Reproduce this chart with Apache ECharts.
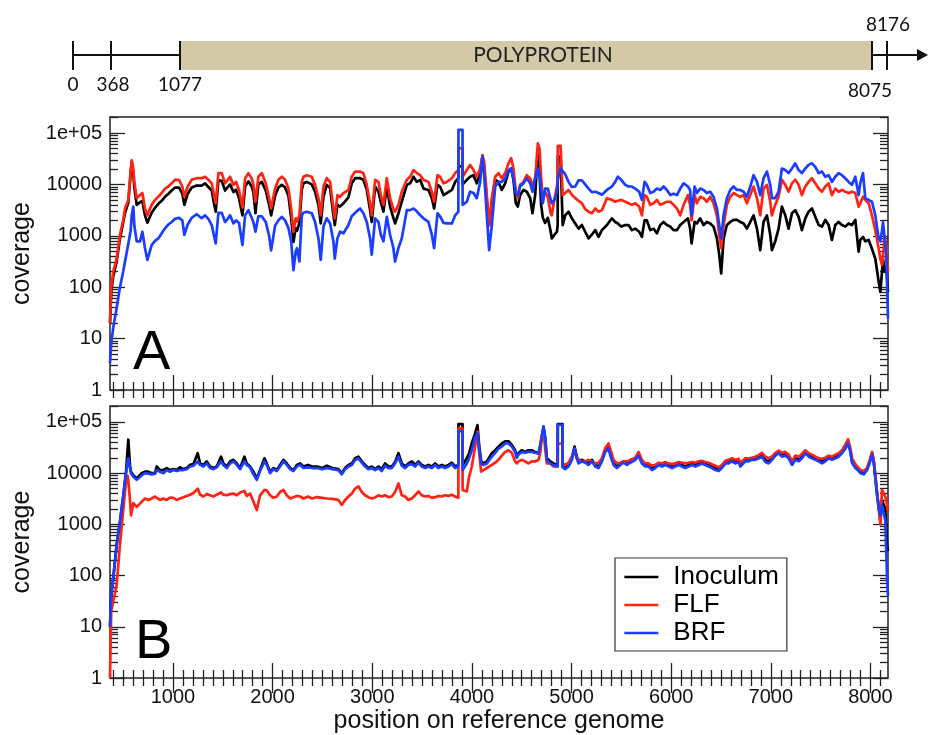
<!DOCTYPE html>
<html>
<head>
<meta charset="utf-8">
<title>Genome coverage</title>
<script src="https://cdn.jsdelivr.net/npm/echarts@6/dist/echarts.min.js"></script>
<style>
  html, body { margin: 0; padding: 0; background: #ffffff; }
  #chart { width: 928px; height: 735px; }
</style>
</head>
<body>
<div id="chart"></div>
<script>
// ---------------------------------------------------------------------------
// Read depth along the reference genome, panel A
// ---------------------------------------------------------------------------
const posA = [
  368, 380, 400, 435, 468, 500, 519, 552, 575, 586,
  602, 612, 636, 669, 693, 719, 743, 786, 820, 853,
  887, 920, 954, 987, 1021, 1061, 1094, 1114, 1148, 1188,
  1238, 1288, 1322, 1355, 1389, 1412, 1429, 1456, 1489, 1523,
  1550, 1573, 1607, 1633, 1663, 1697, 1724, 1757, 1790, 1807,
  1828, 1857, 1891, 1931, 1965, 1985, 2025, 2058, 2092, 2125,
  2159, 2186, 2209, 2232, 2245, 2269, 2293, 2309, 2343, 2393,
  2426, 2460, 2483, 2510, 2543, 2577, 2610, 2624, 2650, 2677,
  2711, 2761, 2794, 2828, 2878, 2911, 2945, 2978, 2995, 3029,
  3062, 3086, 3112, 3146, 3179, 3212, 3229, 3263, 3296, 3347,
  3380, 3414, 3447, 3481, 3514, 3564, 3598, 3621, 3655, 3681,
  3715, 3748, 3799, 3832, 3864, 3865, 3906, 3907, 3949, 3982,
  4016, 4049, 4083, 4106, 4123, 4150, 4173, 4200, 4234, 4267,
  4300, 4334, 4367, 4394, 4417, 4441, 4461, 4484, 4518, 4551,
  4585, 4608, 4635, 4662, 4679, 4695, 4712, 4735, 4762, 4789,
  4802, 4829, 4853, 4861, 4862, 4890, 4910, 4911, 4936, 4970,
  5003, 5037, 5070, 5104, 5137, 5171, 5204, 5238, 5271, 5305,
  5355, 5405, 5438, 5465, 5499, 5539, 5572, 5606, 5639, 5679,
  5706, 5733, 5756, 5790, 5823, 5857, 5890, 5924, 5957, 5991,
  6024, 6058, 6091, 6125, 6168, 6190, 6205, 6235, 6258, 6291,
  6325, 6358, 6392, 6425, 6459, 6482, 6502, 6526, 6559, 6593,
  6626, 6660, 6693, 6727, 6760, 6794, 6827, 6861, 6894, 6927,
  6961, 6994, 7011, 7044, 7078, 7111, 7145, 7178, 7212, 7245,
  7279, 7312, 7346, 7379, 7413, 7446, 7480, 7513, 7547, 7580,
  7613, 7647, 7680, 7714, 7747, 7781, 7814, 7848, 7881, 7898,
  7925, 7948, 7982, 8015, 8049, 8082, 8099, 8116, 8126, 8142,
  8159, 8176
];
const inoculumA = [
  20, 80, 160, 320, 890, 1800, 2800, 4500, 16000, 27000,
  16000, 8900, 4000, 4500, 4800, 2500, 1800, 2800, 3500, 4200,
  4800, 5750, 6600, 7600, 8700, 8700, 6600, 4000, 6600, 8700,
  9500, 9500, 10500, 8900, 7600, 4200, 2950, 12000, 11700, 7600,
  8900, 10000, 7100, 7900, 5400, 2500, 9100, 11500, 9100, 7100,
  2750, 10000, 11200, 7600, 4000, 2500, 6000, 8700, 9800, 8700,
  6000, 2240, 760, 1410, 1260, 1780, 7900, 10500, 11200, 10000,
  7200, 4000, 1740, 5750, 9800, 8500, 2500, 1620, 4000, 3700,
  4300, 5600, 10500, 13200, 13200, 12300, 7900, 3160, 1860, 9100,
  7200, 4500, 2950, 9100, 3700, 2240, 1740, 2750, 4600, 9800,
  10500, 14100, 11200, 12300, 8300, 7800, 5400, 3400, 9800, 9100,
  6200, 6800, 7800, 11200, 13200, 22400, 22400, 10000, 12300, 14100,
  15100, 10500, 16600, 34700, 20000, 4600, 1620, 4600, 12300, 11200,
  7800, 10500, 17800, 20400, 12300, 4300, 3700, 6200, 7800, 7200,
  5400, 2750, 6200, 43700, 15800, 4000, 2240, 1780, 2240, 1260,
  890, 1050, 1200, 1620, 34700, 34700, 34700, 1620, 2500, 2950,
  2190, 1740, 1380, 1620, 1200, 890, 1050, 1290, 950, 1290,
  1620, 2190, 1860, 1740, 1510, 1620, 1620, 1290, 1380, 1200,
  950, 2000, 2000, 1290, 1380, 1120, 1620, 1860, 1620, 1510,
  1290, 1290, 1620, 1860, 2190, 1380, 710, 1860, 1740, 2190,
  1620, 1860, 1740, 1510, 890, 430, 186, 890, 1620, 1860,
  2040, 2040, 1860, 1740, 1380, 1860, 2500, 1380, 525, 1860,
  2500, 1050, 525, 780, 1380, 3700, 2500, 1380, 2750, 3160,
  2340, 1290, 2190, 2950, 3400, 2340, 1620, 1510, 2040, 1620,
  830, 1620, 1860, 1620, 1510, 1740, 1620, 2040, 490, 830,
  950, 780, 830, 560, 355, 130, 81, 200, 360, 200,
  250, 80
];
const flfA = [
  20, 100, 200, 360, 1050, 2000, 3400, 5000, 18000, 29500,
  20000, 11200, 5400, 6200, 6800, 3400, 2500, 4000, 5000, 5750,
  6800, 8300, 9100, 10500, 12300, 12300, 9100, 5750, 9100, 12300,
  13200, 13200, 14100, 12300, 10500, 6200, 4300, 16600, 16600, 10500,
  12300, 14100, 9800, 11200, 7800, 3550, 13200, 16600, 13200, 10000,
  4600, 14100, 16600, 10500, 5400, 3400, 8300, 12300, 14100, 12300,
  8300, 3400, 1200, 2190, 1900, 2500, 11200, 14100, 15100, 14100,
  9800, 5400, 2500, 9100, 13200, 11200, 3400, 2190, 6200, 5750,
  6800, 7800, 14100, 17800, 17800, 16600, 9800, 4200, 2500, 12300,
  11200, 6200, 4000, 13200, 5400, 3300, 2950, 4000, 7200, 12300,
  14100, 19000, 16600, 15100, 12300, 11200, 7200, 4600, 15100, 14100,
  10500, 11200, 13200, 16600, 19000, 50100, 50100, 14100, 19000, 24000,
  19000, 14100, 20400, 37200, 27500, 6200, 1620, 5400, 14100, 16600,
  13200, 16600, 25700, 32400, 20400, 7200, 5400, 9800, 11200, 15100,
  13200, 9100, 13200, 63100, 50100, 13200, 5400, 7200, 5600, 2800,
  2500, 5400, 8900, 11200, 56200, 56200, 56200, 6200, 6800, 7800,
  6300, 5400, 4800, 4300, 3300, 2950, 2750, 3400, 2950, 3160,
  5400, 5000, 4600, 4800, 5000, 4600, 4300, 4000, 4300, 3700,
  2500, 6200, 5750, 4000, 4300, 5000, 4000, 4300, 4600, 4600,
  4000, 3400, 2500, 4000, 6200, 4000, 2000, 6200, 4300, 5750,
  5400, 4600, 5750, 4300, 2500, 1050, 575, 1620, 4000, 5750,
  6800, 6200, 5750, 6200, 4300, 6200, 9100, 5400, 2500, 8300,
  9800, 4600, 2500, 4000, 5750, 12300, 9800, 7200, 10500, 12300,
  9800, 6200, 9100, 11200, 13200, 10500, 8300, 7200, 9100, 10500,
  6200, 8300, 7200, 7800, 7200, 6800, 7200, 6800, 3700, 4300,
  5750, 5000, 4300, 2500, 1260, 575, 355, 270, 400, 1000,
  630, 200
];
const brfA = [
  3.3, 8, 16, 40, 100, 200, 320, 700, 1260, 2500,
  3700, 1600, 780, 780, 1200, 580, 340, 660, 800, 890,
  1120, 1400, 1660, 1860, 2140, 2240, 2000, 1050, 1660, 2240,
  2630, 2190, 2500, 2140, 1620, 1000, 710, 2800, 2800, 1860,
  2140, 2500, 1740, 2000, 1780, 660, 2500, 3160, 2240, 1860,
  1200, 2400, 2400, 1860, 1000, 520, 1580, 2000, 2340, 2000,
  1410, 790, 214, 500, 575, 316, 2500, 2800, 2950, 2750,
  1860, 890, 340, 1510, 2190, 1740, 780, 360, 890, 1200,
  1120, 1620, 2400, 2800, 3400, 2750, 1860, 890, 430, 2190,
  1860, 1050, 780, 2340, 1050, 580, 316, 580, 890, 3160,
  3160, 3400, 3000, 2500, 2190, 1860, 1050, 575, 2750, 2400,
  1780, 1740, 1740, 2500, 2950, 115000, 115000, 4000, 4600, 7200,
  6800, 5400, 11200, 34700, 15800, 2500, 525, 1620, 9100, 11200,
  11200, 13200, 19000, 20400, 13200, 6800, 6200, 9100, 10500, 13200,
  10500, 7200, 13200, 20400, 15800, 7900, 4300, 8300, 8300, 5200,
  4300, 5000, 7200, 11200, 12600, 20400, 20400, 20400, 15800, 11200,
  8900, 9100, 12000, 12000, 10000, 8300, 7100, 7200, 6800, 6300,
  7800, 9100, 11200, 14100, 12300, 9800, 9100, 9100, 8300, 7200,
  5000, 11200, 9800, 6800, 7200, 8300, 7800, 9100, 7800, 6200,
  6600, 6200, 8300, 10500, 9100, 7800, 2500, 9100, 6800, 8300,
  7800, 6800, 7200, 5750, 3400, 1620, 890, 2500, 5400, 7800,
  9100, 7800, 7800, 7200, 5750, 9100, 15100, 11200, 6200, 13200,
  17800, 9800, 5400, 5400, 7200, 20400, 19000, 16600, 20400, 25700,
  19000, 16600, 20400, 24000, 25700, 21900, 16600, 17800, 14100, 15100,
  11200, 14100, 16600, 15100, 13200, 11200, 9800, 14100, 6200, 10500,
  16600, 5400, 5000, 4600, 2500, 890, 780, 1260, 1860, 2000,
  400, 25
];

// ---------------------------------------------------------------------------
// Read depth along the reference genome, panel B
// ---------------------------------------------------------------------------
const posB = [
  368, 380, 401, 435, 468, 502, 529, 545, 552, 569,
  579, 602, 636, 652, 686, 719, 753, 786, 820, 837,
  870, 904, 937, 970, 1004, 1037, 1071, 1104, 1138, 1171,
  1205, 1248, 1272, 1305, 1339, 1372, 1406, 1439, 1483, 1506,
  1540, 1573, 1607, 1640, 1674, 1717, 1740, 1774, 1807, 1841,
  1874, 1918, 1941, 1975, 2008, 2042, 2075, 2109, 2142, 2176,
  2209, 2243, 2276, 2310, 2354, 2397, 2445, 2498, 2545, 2600,
  2660, 2694, 2728, 2761, 2795, 2828, 2862, 2895, 2928, 2961,
  2995, 3028, 3062, 3095, 3129, 3162, 3196, 3229, 3263, 3296,
  3330, 3363, 3397, 3430, 3464, 3497, 3531, 3564, 3598, 3631,
  3664, 3698, 3731, 3765, 3798, 3832, 3864, 3865, 3906, 3907,
  3949, 3972, 3999, 4032, 4056, 4073, 4093, 4116, 4150, 4200,
  4234, 4267, 4300, 4334, 4367, 4400, 4434, 4451, 4467, 4500,
  4534, 4567, 4601, 4634, 4668, 4685, 4702, 4719, 4735, 4752,
  4786, 4819, 4861, 4862, 4910, 4911, 4936, 4970, 5003, 5030,
  5053, 5070, 5104, 5137, 5171, 5204, 5238, 5271, 5305, 5338,
  5371, 5398, 5422, 5455, 5489, 5522, 5556, 5589, 5606, 5640,
  5673, 5706, 5740, 5773, 5807, 5840, 5874, 5907, 5941, 5974,
  6008, 6041, 6075, 6108, 6142, 6175, 6209, 6242, 6276, 6309,
  6342, 6376, 6409, 6443, 6476, 6510, 6543, 6576, 6610, 6643,
  6677, 6694, 6710, 6744, 6777, 6811, 6844, 6878, 6911, 6945,
  6978, 7012, 7045, 7079, 7112, 7146, 7179, 7213, 7246, 7280,
  7313, 7346, 7380, 7413, 7447, 7480, 7514, 7547, 7581, 7614,
  7648, 7681, 7714, 7748, 7775, 7798, 7815, 7848, 7882, 7899,
  7932, 7966, 7993, 8016, 8033, 8049, 8066, 8083, 8100, 8116,
  8133, 8149, 8166, 8176
];
const inoculumB = [
  10, 40, 90, 400, 1100, 3700, 10700, 30000, 45000, 13500,
  10700, 9100, 7900, 8500, 10000, 10700, 10700, 10000, 10000, 13500,
  11500, 11500, 12600, 11500, 12000, 11500, 13000, 12000, 12600, 14500,
  15000, 24500, 15500, 14500, 17000, 13500, 12600, 13500, 21000, 15500,
  13500, 17000, 18200, 15500, 12600, 21000, 15500, 13500, 10700, 7900,
  11500, 19500, 15500, 10700, 12600, 11500, 14500, 18200, 15500, 12600,
  11500, 14500, 15500, 13500, 14500, 13500, 13500, 12600, 14000, 12600,
  12000, 10000, 12600, 14500, 15500, 19500, 21000, 17000, 14500, 12600,
  13500, 12000, 13500, 12000, 15500, 13500, 13500, 16500, 24500, 15500,
  13500, 15500, 17000, 14500, 17000, 14500, 13500, 14500, 13500, 15500,
  13500, 14500, 13500, 14500, 16000, 13500, 14500, 91000, 91000, 14500,
  19500, 24500, 38000, 60000, 87000, 35000, 17000, 15500, 17000, 24500,
  28000, 33000, 38000, 42000, 42000, 35500, 28000, 21000, 24500, 28000,
  26000, 28000, 28000, 26000, 24500, 33000, 51000, 81000, 51000, 19500,
  17000, 15500, 14500, 91000, 91000, 13500, 12600, 14500, 19500, 33000,
  21000, 17000, 18200, 17000, 15500, 18200, 14500, 13500, 18200, 28000,
  33000, 21000, 15500, 13500, 15500, 17000, 15500, 17000, 18200, 19500,
  24500, 17000, 14500, 14500, 12600, 13500, 15500, 14500, 15500, 14500,
  13500, 14500, 15500, 14500, 13500, 14500, 15500, 14500, 15500, 17000,
  15500, 14500, 13500, 12600, 11500, 13500, 16500, 16500, 18200, 16500,
  18200, 14500, 13500, 18200, 18200, 19500, 19500, 21000, 23000, 18200,
  17000, 19500, 24500, 26000, 23000, 24500, 21000, 15500, 19500, 18200,
  21000, 26000, 23000, 21000, 19500, 18200, 17000, 18200, 21000, 19500,
  21000, 23000, 26000, 33000, 42000, 28000, 17000, 13500, 11500, 10700,
  10000, 12000, 17000, 24500, 17000, 8500, 4000, 2240, 1120, 3000,
  3000, 2000, 400, 300
];
const flfB = [
  1, 20, 32, 66, 400, 2000, 7000, 8900, 7000, 3000,
  1500, 2600, 2200, 2240, 2750, 3200, 3000, 3200, 3500, 3200,
  3000, 3200, 3000, 3350, 3300, 3000, 3200, 3400, 3600, 3800,
  4100, 5000, 3800, 3500, 3900, 3700, 3500, 3800, 4200, 3800,
  3700, 3900, 4000, 3700, 4200, 4500, 3600, 4000, 2800, 1900,
  3700, 4700, 4600, 3700, 3300, 3500, 4300, 4700, 3700, 3200,
  3400, 3600, 3500, 3200, 3500, 3200, 3400, 3300, 3200, 3150,
  3000, 2400, 3000, 3500, 4000, 5000, 5500, 4300, 3700, 3400,
  3200, 3350, 3700, 3500, 3700, 3400, 3500, 4300, 6300, 3700,
  3500, 3000, 3200, 3700, 4400, 3700, 3500, 3600, 3300, 3400,
  3600, 3500, 3700, 3600, 3800, 3500, 3300, 75000, 75000, 4700,
  4400, 8500, 13500, 33000, 65000, 25000, 10700, 11500, 12600, 14500,
  16000, 18200, 22000, 26000, 28000, 25000, 17000, 15500, 17000, 18200,
  17000, 15500, 17000, 17000, 18000, 24500, 51000, 65000, 31000, 15500,
  15500, 13500, 13500, 38000, 38000, 15500, 14500, 16000, 21000, 30000,
  19500, 18200, 17000, 17000, 18200, 17000, 15500, 16000, 19500, 31000,
  38000, 26000, 18200, 15500, 16000, 17000, 17000, 18200, 18200, 20000,
  26000, 18200, 15500, 15500, 14000, 14500, 16000, 15500, 16500, 15500,
  15000, 15500, 16500, 16000, 15500, 16000, 16500, 16000, 17000, 17500,
  16500, 16000, 15000, 14000, 13000, 14500, 17500, 18200, 19500, 18200,
  19000, 16000, 15500, 19500, 19500, 20000, 21000, 22500, 25000, 21000,
  19500, 21000, 25000, 27500, 25000, 26000, 23000, 17000, 22000, 21000,
  24000, 28000, 24500, 23000, 21000, 19500, 19000, 20000, 22000, 21000,
  23000, 24500, 28000, 36000, 46000, 31000, 19500, 15000, 12600, 11500,
  11000, 12600, 18200, 26000, 18200, 9100, 4400, 2000, 1000, 4700,
  4400, 3500, 2500, 1800
];
const brfB = [
  10, 40, 90, 400, 1100, 3700, 10000, 17000, 19500, 12600,
  10000, 8500, 7400, 7900, 9100, 10000, 9800, 9500, 9800, 11500,
  10700, 10000, 11500, 10700, 11500, 11000, 11500, 11500, 12000, 13500,
  14000, 17000, 14500, 13500, 15500, 12600, 12000, 13000, 17000, 14500,
  12600, 15500, 17000, 14500, 12000, 17000, 14500, 13000, 9500, 7400,
  11000, 17000, 14500, 10000, 12000, 11000, 13500, 17000, 14500, 12000,
  11000, 13500, 14500, 12600, 13000, 12600, 12600, 12000, 12600, 12000,
  11500, 9500, 12000, 13500, 14500, 18000, 19500, 16000, 13500, 12000,
  12600, 11500, 12600, 11000, 14000, 12600, 12600, 15500, 21000, 14000,
  12600, 14500, 15000, 13500, 16000, 13500, 12600, 13500, 12600, 14500,
  12600, 13500, 12600, 13500, 15000, 12600, 13500, 66000, 66000, 11500,
  15500, 19500, 28000, 50000, 60000, 30000, 15500, 14500, 15500, 21000,
  25000, 30000, 33000, 38000, 38000, 33000, 26000, 20000, 23000, 26000,
  25000, 26000, 26000, 25000, 24000, 35000, 55000, 80000, 50000, 18000,
  15500, 14500, 13500, 88000, 88000, 13000, 12000, 13500, 18200, 30000,
  19500, 15500, 17000, 16000, 14500, 17000, 13500, 12600, 17000, 26000,
  30000, 19500, 14500, 12600, 14500, 16000, 14500, 16000, 17000, 18200,
  22000, 15500, 13500, 13500, 11500, 12600, 14500, 13500, 14500, 13500,
  12600, 13500, 14500, 13500, 12600, 13500, 14500, 13500, 14500, 15500,
  14500, 13500, 12600, 11500, 11000, 12600, 15500, 15500, 17000, 15500,
  16500, 13500, 12600, 17000, 17000, 18200, 18200, 19500, 21000, 16500,
  15500, 18200, 22000, 24500, 21000, 22000, 19500, 14500, 18200, 17000,
  19500, 24500, 21000, 19500, 18200, 17000, 15500, 17000, 19500, 18200,
  19500, 21000, 24500, 30000, 38000, 26000, 16000, 12600, 11000, 10000,
  9500, 11500, 16000, 23000, 16000, 7900, 3700, 2000, 1500, 2400,
  2600, 1200, 100, 40
];

// Axis scales and tick positions
const X_MIN = 368;
const X_MAX = 8176;
const Y_MIN = 1;
const Y_MAX = 205000;
const Y_TOP = Math.log10(Y_MAX);
const xMajor = [1000, 2000, 3000, 4000, 5000, 6000, 7000, 8000];
const xMinor = [];
for (let v = 400; v <= 8100; v += 100) if (v % 1000 !== 0) xMinor.push(v);
const yDecades = [0, 1, 2, 3, 4, 5];
const yDecadeLabels = ['1', '10', '100', '1000', '10000', '1e+05'];
const yMinor = [];
for (let n = 0; n <= 5; n++) {
  for (let k = 2; k <= 9; k++) {
    const d = n + Math.log10(k);
    if (d < Y_TOP) yMinor.push(d);
  }
}

// Genome organisation shown above the plots
const genomeLabels = ['0', '368', '1077', '8075', '8176'];
const geneName = 'POLYPROTEIN';
const seriesNames = ['Inoculum', 'FLF', 'BRF'];
const seriesColors = ['#000000', '#ff2314', '#1a3dff'];

const FONT = '"Liberation Sans", Arial, Helvetica, sans-serif';
const MAP_FONT = 'Lato, "Open Sans", sans-serif';
const TICK_COLOR = '#222';

const GRID_A = { left: 110, top: 117, width: 778, height: 273 };
const GRID_B = { left: 110, top: 406, width: 778, height: 272 };

function xAxis(gridIndex, position, ticks, len, withLabels, name) {
  return {
    type: 'value', gridIndex, position, min: X_MIN, max: X_MAX,
    axisLine: { show: false },
    splitLine: { show: false },
    axisTick: { show: true, inside: true, length: len, customValues: ticks,
      lineStyle: { color: TICK_COLOR, width: 1.3 } },
    axisLabel: withLabels
      ? { show: true, customValues: xMajor, fontSize: 20, color: '#111', margin: 9, fontFamily: FONT,
          formatter: v => String(v) }
      : { show: false },
    name: name || '',
    nameLocation: 'middle',
    nameGap: 31,
    nameTextStyle: { fontSize: 25, color: '#111', fontFamily: FONT }
  };
}

function yTickAxis(gridIndex, position, ticks, len, withLabels) {
  return {
    type: 'value', gridIndex, position, min: 0, max: Y_TOP,
    axisLine: { show: false },
    splitLine: { show: false },
    axisTick: { show: true, inside: true, length: len, customValues: ticks,
      lineStyle: { color: TICK_COLOR, width: 1.3 } },
    axisLabel: withLabels
      ? { show: true, customValues: yDecades, margin: 8, fontSize: 20, color: '#111', fontFamily: FONT,
          formatter: v => yDecadeLabels[Math.round(v)] }
      : { show: false },
    name: withLabels ? 'coverage' : '',
    nameLocation: 'middle',
    nameGap: 75,
    nameTextStyle: { fontSize: 25, color: '#111', fontFamily: FONT }
  };
}

function dataAxis(gridIndex) {
  return { type: 'log', logBase: 10, gridIndex, min: Y_MIN, max: Y_MAX, show: false };
}

const xAxes = [
  xAxis(0, 'bottom', xMajor, 15, false),
  xAxis(0, 'bottom', xMinor, 8, false),
  xAxis(0, 'top', xMajor, 15, false),
  xAxis(0, 'top', xMinor, 8, false),
  xAxis(1, 'bottom', xMajor, 15, true, 'position on reference genome'),
  xAxis(1, 'bottom', xMinor, 8, false),
  xAxis(1, 'top', xMajor, 15, false),
  xAxis(1, 'top', xMinor, 8, false)
];
const yAxes = [
  dataAxis(0),
  yTickAxis(0, 'left', yDecades, 15, true),
  yTickAxis(0, 'left', yMinor, 8, false),
  yTickAxis(0, 'right', yDecades, 15, false),
  yTickAxis(0, 'right', yMinor, 8, false),
  dataAxis(1),
  yTickAxis(1, 'left', yDecades, 15, true),
  yTickAxis(1, 'left', yMinor, 8, false),
  yTickAxis(1, 'right', yDecades, 15, false),
  yTickAxis(1, 'right', yMinor, 8, false)
];

function lineSeries(name, color, xs, ys, xAxisIndex, yAxisIndex) {
  return {
    type: 'line', name, xAxisIndex, yAxisIndex,
    data: xs.map((p, i) => [p, ys[i]]),
    symbol: 'none', showSymbol: false, smooth: false,
    lineStyle: { color, width: 2.7, join: 'round' },
    itemStyle: { color },
    emphasis: { disabled: true },
    z: 3
  };
}

const panelA = [inoculumA, flfA, brfA];
const panelB = [inoculumB, flfB, brfB];
const series = [];
seriesNames.forEach((n, i) => series.push(lineSeries(n, seriesColors[i], posA, panelA[i], 0, 0)));
seriesNames.forEach((n, i) => series.push(lineSeries(n, seriesColors[i], posB, panelB[i], 4, 5)));

// Genome map drawn as a schematic strip
const MAP_Y = 55;
const mapGraphics = [
  { type: 'line', shape: { x1: 73, y1: MAP_Y, x2: 919, y2: MAP_Y }, style: { stroke: '#111', lineWidth: 2 } },
  { type: 'polygon', shape: { points: [[917, MAP_Y - 6], [928, MAP_Y], [917, MAP_Y + 6]] }, style: { fill: '#111' } },
  { type: 'rect', shape: { x: 180, y: 41, width: 692, height: 29 }, style: { fill: '#d4c9a6' } },
  { type: 'line', shape: { x1: 73, y1: 41, x2: 73, y2: 70 }, style: { stroke: '#111', lineWidth: 2 } },
  { type: 'line', shape: { x1: 111, y1: 41, x2: 111, y2: 70 }, style: { stroke: '#111', lineWidth: 2 } },
  { type: 'line', shape: { x1: 180, y1: 41, x2: 180, y2: 70 }, style: { stroke: '#111', lineWidth: 2 } },
  { type: 'line', shape: { x1: 872, y1: 41, x2: 872, y2: 70 }, style: { stroke: '#111', lineWidth: 2 } },
  { type: 'line', shape: { x1: 887, y1: 41, x2: 887, y2: 70 }, style: { stroke: '#111', lineWidth: 2 } },
  { type: 'text', x: 543, y: MAP_Y, style: { text: geneName, font: '21px ' + MAP_FONT, fill: '#222', align: 'center', verticalAlign: 'middle' } },
  { type: 'text', x: 73, y: 85, style: { text: genomeLabels[0], font: '19px ' + MAP_FONT, fill: '#111', align: 'center', verticalAlign: 'middle' } },
  { type: 'text', x: 113, y: 85, style: { text: genomeLabels[1], font: '19px ' + MAP_FONT, fill: '#111', align: 'center', verticalAlign: 'middle' } },
  { type: 'text', x: 180, y: 85, style: { text: genomeLabels[2], font: '19px ' + MAP_FONT, fill: '#111', align: 'center', verticalAlign: 'middle' } },
  { type: 'text', x: 870, y: 91, style: { text: genomeLabels[3], font: '19px ' + MAP_FONT, fill: '#111', align: 'center', verticalAlign: 'middle' } },
  { type: 'text', x: 888, y: 25, style: { text: genomeLabels[4], font: '19px ' + MAP_FONT, fill: '#111', align: 'center', verticalAlign: 'middle' } }
];

// Panel letters
const panelLetters = [
  { type: 'text', x: 133, y: 354, style: { text: 'A', font: '56px ' + FONT, fill: '#000', align: 'left', verticalAlign: 'middle' } },
  { type: 'text', x: 135, y: 643, style: { text: 'B', font: '56px ' + FONT, fill: '#000', align: 'left', verticalAlign: 'middle' } }
];

const chart = echarts.init(document.getElementById('chart'), null, { renderer: 'canvas' });
chart.setOption({
  animation: false,
  backgroundColor: '#ffffff',
  textStyle: { fontFamily: FONT },
  grid: [
    Object.assign({ show: true, borderColor: '#222', borderWidth: 1.5, backgroundColor: 'transparent' }, GRID_A),
    Object.assign({ show: true, borderColor: '#222', borderWidth: 1.5, backgroundColor: 'transparent' }, GRID_B)
  ],
  xAxis: xAxes,
  yAxis: yAxes,
  legend: {
    data: seriesNames,
    orient: 'vertical',
    left: 615,
    top: 558,
    itemWidth: 34,
    itemHeight: 14,
    itemGap: 2,
    padding: [6, 8, 5, 8],
    borderColor: '#333',
    borderWidth: 1.2,
    backgroundColor: '#fff',
    selectedMode: false,
    itemStyle: { opacity: 0 },
    lineStyle: { width: 2.7 },
    textStyle: { fontSize: 26, color: '#000', fontFamily: FONT, lineHeight: 26, padding: [0, 0, 0, 10] }
  },
  series,
  graphic: mapGraphics.concat(panelLetters)
});
</script>
</body>
</html>
